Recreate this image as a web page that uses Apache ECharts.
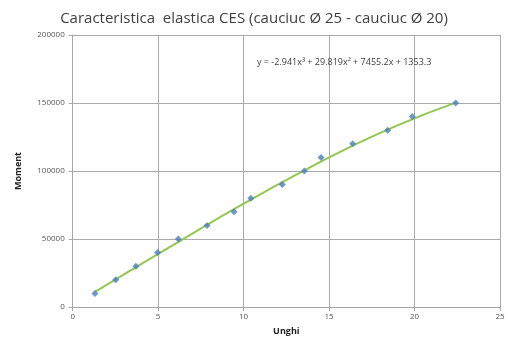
<!DOCTYPE html>
<html><head><meta charset="utf-8">
<script src="https://cdn.jsdelivr.net/npm/echarts@6/dist/echarts.min.js"></script>
<style>html,body{margin:0;padding:0;background:#fff}#c{width:508px;height:345px}</style>
</head><body><div id="c"></div>
<script>
const titleText = 'Caracteristica  elastica CES (cauciuc Ø 25 - cauciuc Ø 20)';
const equationText = 'y = -2.941x³ + 29.819x² + 7455.2x + 1353.3';
const xLabel = 'Unghi';
const yLabel = 'Moment';
const unghi = [1.30, 2.52, 3.70, 4.97, 6.18, 7.86, 9.44, 10.42, 12.26, 13.55, 14.53, 16.38, 18.43, 19.87, 22.41];
const moment = [10000, 20000, 30000, 40000, 50000, 60000, 70000, 80000, 90000, 100000, 110000, 120000, 130000, 140000, 150000];
const trendX = [1.30, 4, 7, 10, 13, 16, 19, 22.41];
const trendY = [11100, 31500, 54000, 76000, 96800, 116200, 133600, 150300];

const chart = echarts.init(document.getElementById('c'), null, {renderer: 'canvas'});
const font = 'Open Sans, sans-serif';
chart.setOption({
  animation: false,
  title: [
    {text: titleText, left: 'center', top: 6,
     textStyle: {fontFamily: font, fontSize: 15, fontWeight: 'normal', color: '#404040'}},
    {text: equationText, left: 257, top: 58, padding: 0,
     textStyle: {fontFamily: font, fontSize: 9, fontWeight: 'normal', color: '#404040'}}
  ],
  grid: {left: 72.7, right: 8, top: 35, bottom: 38},
  xAxis: {
    type: 'value', min: 0, max: 25, interval: 5,
    name: xLabel, nameLocation: 'middle', nameGap: 20,
    nameTextStyle: {fontFamily: font, fontSize: 9, fontWeight: 'bold', color: '#222'},
    axisLine: {show: true, onZero: false, lineStyle: {color: '#a6a6a6'}},
    axisTick: {show: true, length: 4, lineStyle: {color: '#a6a6a6'}},
    axisLabel: {fontFamily: font, fontSize: 8, color: '#555', margin: 6},
    splitLine: {show: true, lineStyle: {color: '#aaaaaa'}}
  },
  yAxis: {
    type: 'value', min: 0, max: 200000, interval: 50000,
    name: yLabel, nameLocation: 'middle', nameGap: 50, nameRotate: 90,
    nameTextStyle: {fontFamily: font, fontSize: 9, fontWeight: 'bold', color: '#222'},
    axisLine: {show: true, lineStyle: {color: '#a6a6a6'}},
    axisTick: {show: true, length: 4, lineStyle: {color: '#a6a6a6'}},
    axisLabel: {fontFamily: font, fontSize: 8, color: '#555', margin: 8, formatter: v => String(v)},
    splitLine: {show: true, lineStyle: {color: '#aaaaaa'}}
  },
  series: [
    {type: 'line', data: trendX.map((x, i) => [x, trendY[i]]), smooth: true, showSymbol: false,
     lineStyle: {color: '#92c84f', width: 2}, z: 2},
    {type: 'scatter', data: unghi.map((x, i) => [x, moment[i]]), symbol: 'diamond', symbolSize: 7,
     itemStyle: {color: '#4a7ebb'}, z: 3}
  ]
});
</script></body></html>
